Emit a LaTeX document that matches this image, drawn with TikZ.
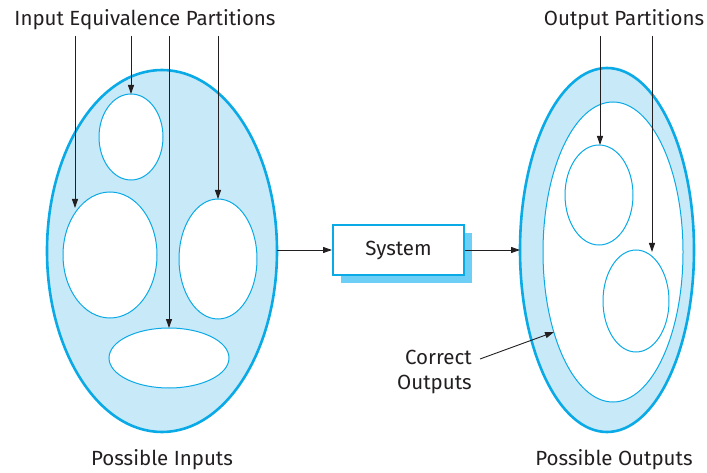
\documentclass[tikz,border=0pt]{standalone}
\usepackage{fontspec}
\setmainfont{Fira Sans}
\usetikzlibrary{arrows.meta}
\definecolor{cblue}{HTML}{0AAAE6}
\definecolor{cfill}{HTML}{C8E9F8}
\definecolor{cshadow}{HTML}{6DCFF6}
\definecolor{ctext}{HTML}{231F20}
\begin{document}
\begin{tikzpicture}[x=1pt,y=-1pt,
  outer/.style={draw=cblue,line width=2.6pt,fill=cfill},
  inner/.style={draw=cblue,line width=1pt,fill=white},
  ptr/.style={draw=ctext,line width=0.9pt,-{Triangle[length=9pt,width=6pt]}},
  lbl/.style={font=\fontsize{20.5}{24}\selectfont,text=ctext,inner sep=0pt}]
\useasboundingbox (0,0) rectangle (707,473);
% left
\draw[outer] (162,251) ellipse [x radius=115,y radius=181];
\draw[inner] (131,137) ellipse [x radius=32,y radius=43];
\draw[inner] (110,255) ellipse [x radius=47,y radius=63];
\draw[inner] (218,259) ellipse [x radius=39,y radius=60];
\draw[inner] (169,358) ellipse [x radius=60,y radius=30];
\coordinate (lin) at (277,250);
\coordinate (a1) at (75,208);
\coordinate (a2) at (131,94);
\coordinate (a3) at (169,328);
\coordinate (a4) at (218,199);
% right
\draw[outer] (607,250) ellipse [x radius=87,y radius=182];
\draw[inner] (613,252) ellipse [x radius=70,y radius=150];
\draw[inner] (599,195) ellipse [x radius=34,y radius=50];
\draw[inner] (636,301) ellipse [x radius=33,y radius=51];
\coordinate (rin) at (520,250);
\coordinate (b1) at (600,145);
\coordinate (b2) at (652,252);
\coordinate (co) at (554,332);
% system
\fill[cshadow] (341,233) rectangle (472,283);
\node[draw=cblue,line width=2pt,fill=white,minimum width=131pt,minimum height=50pt,lbl] (sys) at (398.5,250) {System};
% texts
\node[lbl] (ip) at (145,20) {Input Equivalence Partitions};
\node[lbl] (op) at (624,20) {Output Partitions};
\node[lbl,align=right,anchor=east] (cot) at (472,372) {Correct\\[1pt]Outputs};
\node[lbl] (pi) at (162,460) {Possible Inputs};
\node[lbl] (po) at (614,460) {Possible Outputs};
% arrows
\draw[ptr] (lin) -- (sys.west);
\draw[ptr] (sys.east) -- (rin);
\draw[ptr] (75,36) -- (a1);
\draw[ptr] (131,36) -- (a2);
\draw[ptr] (169,36) -- (a3);
\draw[ptr] (218,36) -- (a4);
\draw[ptr] (600,36) -- (b1);
\draw[ptr] (652,36) -- (b2);
\draw[ptr] (480,359) -- (co);
\end{tikzpicture}
\end{document}
